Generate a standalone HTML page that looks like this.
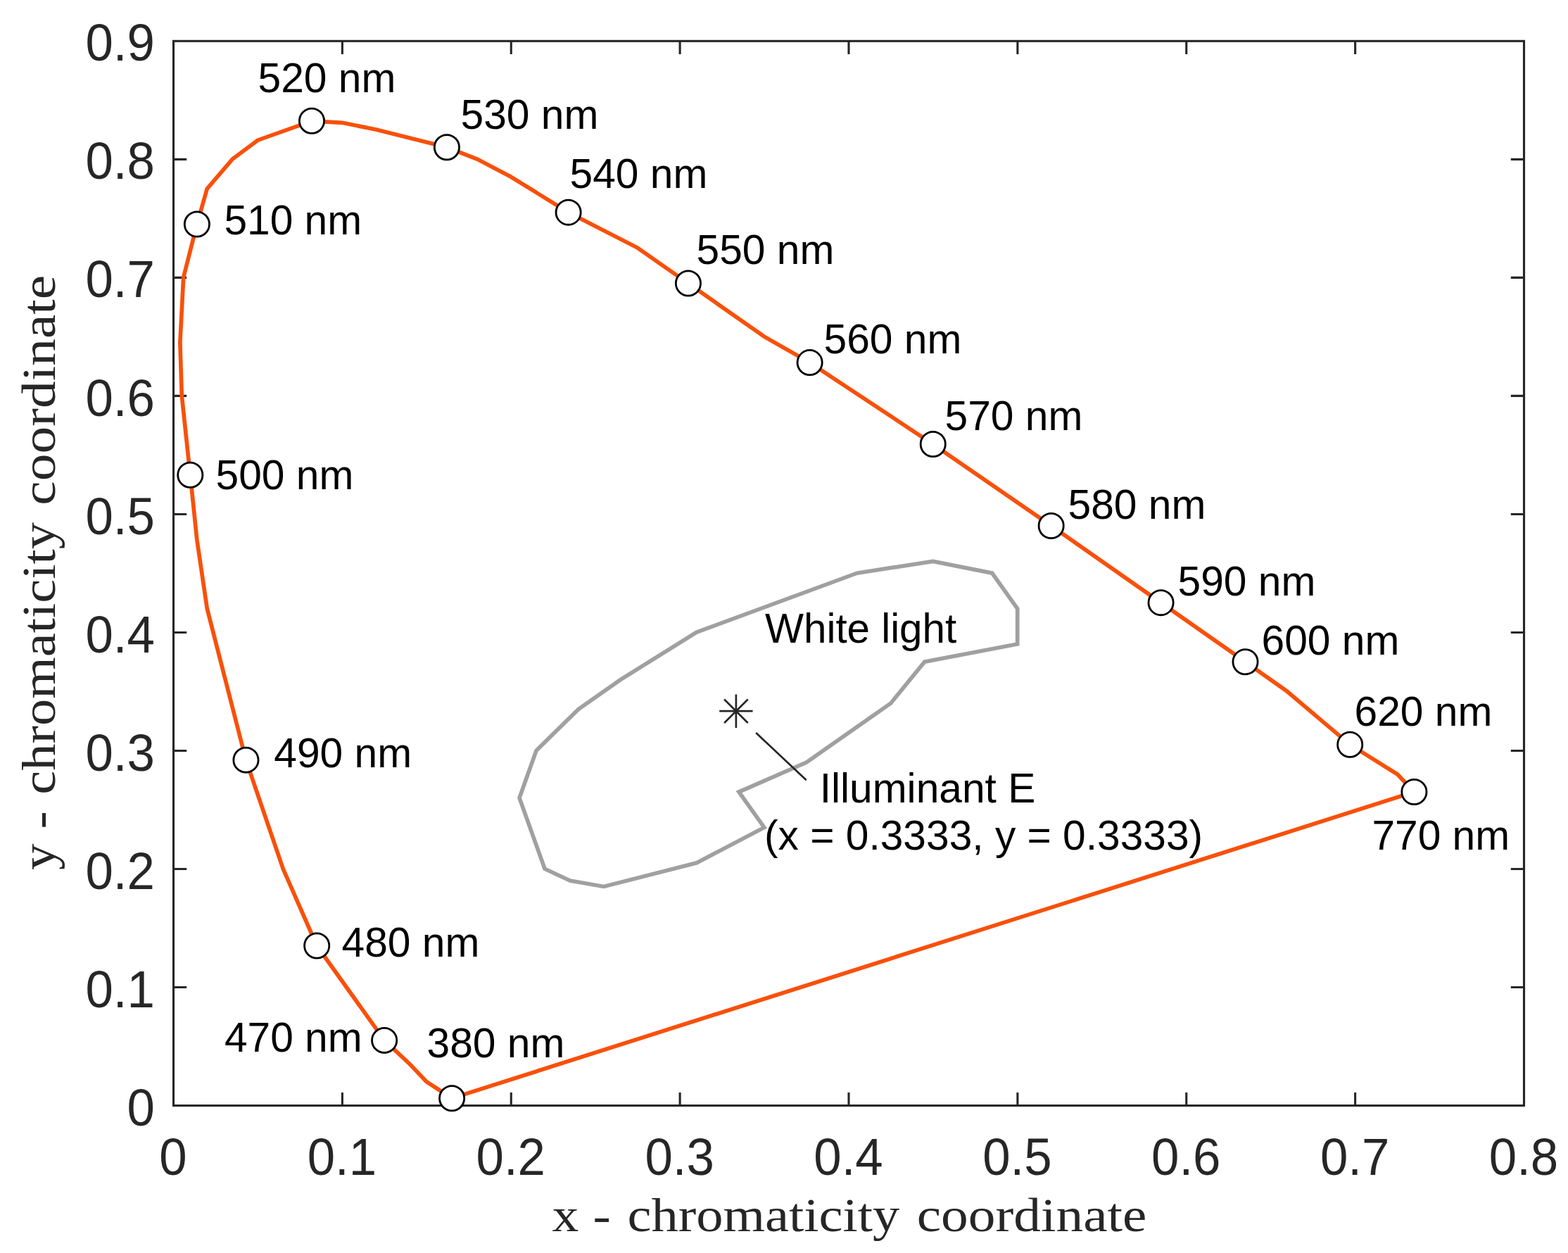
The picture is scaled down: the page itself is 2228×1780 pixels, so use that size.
<!DOCTYPE html>
<html lang="en"><head><meta charset="utf-8"><title>CIE 1931 chromaticity diagram</title>
<style>
html,body{margin:0;padding:0;background:#fff;}
body{width:2228px;height:1780px;overflow:hidden;}
svg{display:block;}
.sans{font-family:"Liberation Sans",Arial,Helvetica,sans-serif;}
.serif{font-family:"Liberation Serif","Times New Roman",serif;}
.tick{font-size:70.8px;fill:#262626;}
.lab{font-size:58.7px;fill:#000;}
.axl{font-size:67.5px;fill:#262626;letter-spacing:0px;word-spacing:0px;}
</style></head><body>
<svg xmlns="http://www.w3.org/2000/svg" width="2228" height="1780" viewBox="0 0 2228 1780">
<rect width="2228" height="1780" fill="#fff"/>
<g fill="none" stroke="#262626" stroke-width="3.1">
<path d="M486.38 1570.6V1551.9M486.38 58.33V77.03M726.25 1570.6V1551.9M726.25 58.33V77.03M966.12 1570.6V1551.9M966.12 58.33V77.03M1206 1570.6V1551.9M1206 58.33V77.03M1445.88 1570.6V1551.9M1445.88 58.33V77.03M1685.75 1570.6V1551.9M1685.75 58.33V77.03M1925.62 1570.6V1551.9M1925.62 58.33V77.03M246.5 1402.57H265.2M2165.5 1402.57H2146.8M246.5 1234.54H265.2M2165.5 1234.54H2146.8M246.5 1066.51H265.2M2165.5 1066.51H2146.8M246.5 898.48H265.2M2165.5 898.48H2146.8M246.5 730.45H265.2M2165.5 730.45H2146.8M246.5 562.42H265.2M2165.5 562.42H2146.8M246.5 394.39H265.2M2165.5 394.39H2146.8M246.5 226.36H265.2M2165.5 226.36H2146.8"/>
<rect x="246.5" y="58.33" width="1919" height="1512.27"/>
</g>
<g class="sans tick" text-anchor="end">
<text transform="translate(219.8 1598.7) scale(1 1.04)">0</text>
<text transform="translate(219.8 1430.67) scale(1 1.04)">0.1</text>
<text transform="translate(219.8 1262.64) scale(1 1.04)">0.2</text>
<text transform="translate(219.8 1094.61) scale(1 1.04)">0.3</text>
<text transform="translate(219.8 926.58) scale(1 1.04)">0.4</text>
<text transform="translate(219.8 758.55) scale(1 1.04)">0.5</text>
<text transform="translate(219.8 590.52) scale(1 1.04)">0.6</text>
<text transform="translate(219.8 422.49) scale(1 1.04)">0.7</text>
<text transform="translate(219.8 254.46) scale(1 1.04)">0.8</text>
<text transform="translate(219.8 86.43) scale(1 1.04)">0.9</text>
</g>
<g class="sans tick" text-anchor="middle">
<text transform="translate(246 1668.5) scale(1 1.04)">0</text>
<text transform="translate(485.88 1668.5) scale(1 1.04)">0.1</text>
<text transform="translate(725.75 1668.5) scale(1 1.04)">0.2</text>
<text transform="translate(965.62 1668.5) scale(1 1.04)">0.3</text>
<text transform="translate(1205.5 1668.5) scale(1 1.04)">0.4</text>
<text transform="translate(1445.38 1668.5) scale(1 1.04)">0.5</text>
<text transform="translate(1685.25 1668.5) scale(1 1.04)">0.6</text>
<text transform="translate(1925.12 1668.5) scale(1 1.04)">0.7</text>
<text transform="translate(2165 1668.5) scale(1 1.04)">0.8</text>
</g>
<text class="serif axl" transform="translate(1206 1749.3)"><tspan x="-421.46" y="0" textLength="37.78" lengthAdjust="spacingAndGlyphs">x</tspan> <tspan x="-363.55" y="0" textLength="25.27" lengthAdjust="spacingAndGlyphs">-</tspan> <tspan x="-314.54" y="0" textLength="386.72" lengthAdjust="spacingAndGlyphs">chromaticity</tspan> <tspan x="96.73" y="0" textLength="326.69" lengthAdjust="spacingAndGlyphs">coordinate</tspan></text>
<text class="serif axl" transform="translate(78.4 814.5) rotate(-90)"><tspan x="-421.51" y="0" textLength="37.52" lengthAdjust="spacingAndGlyphs">y</tspan> <tspan x="-363.09" y="0" textLength="25.24" lengthAdjust="spacingAndGlyphs">-</tspan> <tspan x="-314.31" y="0" textLength="386.82" lengthAdjust="spacingAndGlyphs">chromaticity</tspan> <tspan x="96.87" y="0" textLength="326.87" lengthAdjust="spacingAndGlyphs">coordinate</tspan></text>
<polygon points="738.04,1133.42 762.03,1066.21 822,1007.4 881.97,965.39 989.91,898.18 1217.79,814.16 1325.74,797.36 1409.69,814.16 1445.67,864.57 1445.67,914.98 1313.74,940.19 1265.77,999 1145.83,1083.01 1049.88,1125.02 1085.86,1175.43 989.91,1225.84 857.98,1259.44 810.01,1251.04 774.03,1234.24" fill="none" stroke="#A0A0A0" stroke-width="5.7" stroke-linejoin="miter"/>
<polygon points="642.09,1560.22 606.11,1536.69 582.12,1511.49 546.14,1477.88 450.19,1343.46 402.22,1234.24 349.45,1079.65 294.28,864.57 279.88,767.12 270.29,674.7 258.29,562.12 255.9,486.51 260.69,394.09 279.88,318.48 294.28,268.07 330.26,226.06 366.24,199.18 443,171.79 486.18,174.31 534.15,184.05 634.9,209.26 678.08,226.06 726.05,251.26 807.61,301.67 905.96,352.08 977.92,402.49 1085.86,478.11 1150.63,515.07 1325.74,631.01 1493.65,746.95 1649.57,856.17 1769.51,940.19 1827.8,981.35 1918.23,1057.81 1985.39,1099.82 2009.38,1125.02" fill="none" stroke="#F9500A" stroke-width="5.7" stroke-linejoin="miter"/>
<path d="M1022.18 1010.2H1069.58M1045.88 986.5V1033.9M1029.13 993.44L1062.64 1026.96M1029.13 1026.96L1062.64 993.44" fill="none" stroke="#262626" stroke-width="2.7"/>
<line x1="1074.2" y1="1041" x2="1145.7" y2="1108.2" stroke="#262626" stroke-width="2.7"/>
<g fill="#fff" stroke="#000" stroke-width="2.8">
<circle cx="642.09" cy="1560.22" r="17.6"/>
<circle cx="546.14" cy="1477.88" r="17.6"/>
<circle cx="450.19" cy="1343.46" r="17.6"/>
<circle cx="349.45" cy="1079.65" r="17.6"/>
<circle cx="270.29" cy="674.7" r="17.6"/>
<circle cx="279.88" cy="318.48" r="17.6"/>
<circle cx="443" cy="171.79" r="17.6"/>
<circle cx="634.9" cy="209.26" r="17.6"/>
<circle cx="807.61" cy="301.67" r="17.6"/>
<circle cx="977.92" cy="402.49" r="17.6"/>
<circle cx="1150.63" cy="515.07" r="17.6"/>
<circle cx="1325.74" cy="631.01" r="17.6"/>
<circle cx="1493.65" cy="746.95" r="17.6"/>
<circle cx="1649.57" cy="856.17" r="17.6"/>
<circle cx="1769.51" cy="940.19" r="17.6"/>
<circle cx="1918.23" cy="1057.81" r="17.6"/>
<circle cx="2009.38" cy="1125.02" r="17.6"/>
</g>
<g class="sans lab">
<text x="606.6" y="1501.5">380 nm</text>
<text x="318.9" y="1493.5">470 nm</text>
<text x="485.6" y="1358.5">480 nm</text>
<text x="389.3" y="1089.5">490 nm</text>
<text x="306.6" y="694.5">500 nm</text>
<text x="318.4" y="332.5">510 nm</text>
<text x="366.6" y="130.5">520 nm</text>
<text x="654.6" y="182.5">530 nm</text>
<text x="809.6" y="266.5">540 nm</text>
<text x="989.6" y="374.5">550 nm</text>
<text x="1170.6" y="501.5">560 nm</text>
<text x="1342.6" y="610.5">570 nm</text>
<text x="1517.6" y="736.5">580 nm</text>
<text x="1673.6" y="845.5">590 nm</text>
<text x="1792.6" y="929.5">600 nm</text>
<text x="1924.6" y="1030.5">620 nm</text>
<text x="1949.4" y="1206.5">770 nm</text>
<text x="1087" y="913" style="font-size:58.3px">White light</text>
<text x="1164.7" y="1140">Illuminant E</text>
<text x="1086" y="1207">(x = 0.3333, y = 0.3333)</text>
</g>
</svg>
</body></html>
